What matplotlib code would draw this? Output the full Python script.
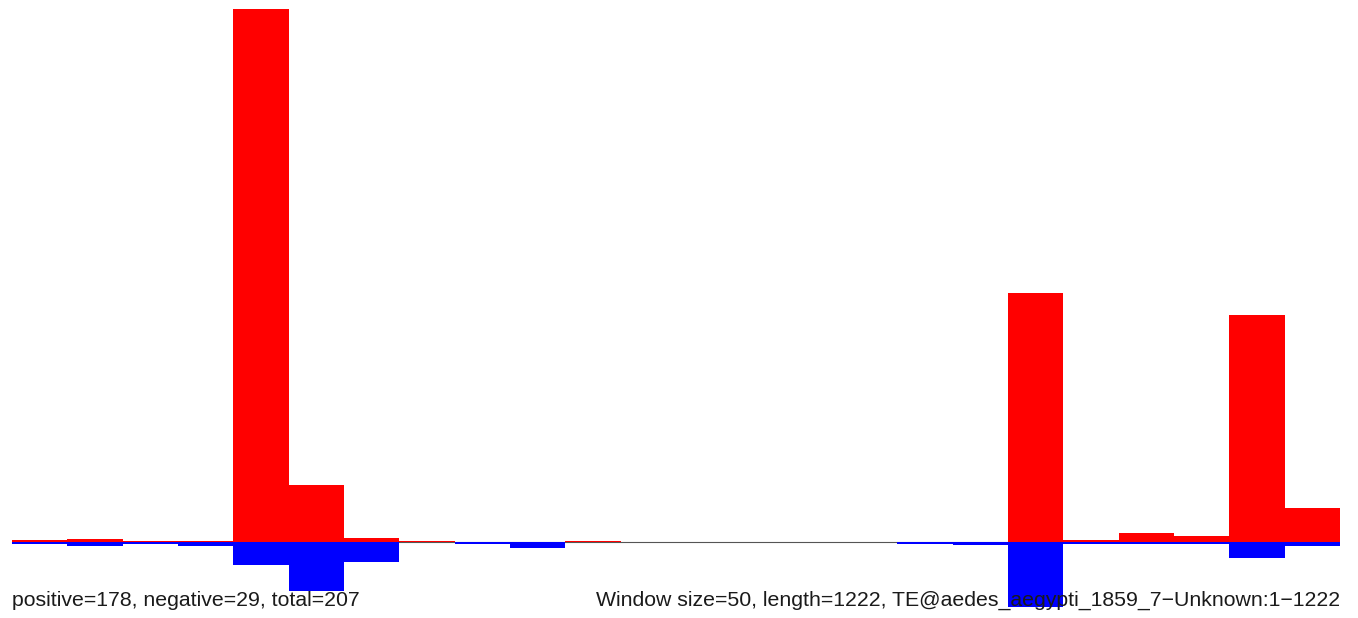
import matplotlib.pyplot as plt
import numpy as np

# window counts, one per 50 bp window
window_start = np.arange(0, 1200, 50)
positive = [0.35, 0.5, 0.2, 0.2, 83.9, 9.0, 0.7, 0.3, 0, 0, 0.3, 0, 0, 0, 0, 0,
            0, 0, 39.2, 0.35, 1.5, 1.0, 35.7, 5.4]
negative = [0.2, 0.5, 0.25, 0.5, 3.5, 7.7, 3.1, 0, 0.25, 0.9, 0, 0, 0, 0, 0, 0,
            0.25, 0.4, 10.1, 0.2, 0.2, 0.3, 2.4, 0.6]

left_label = "positive=178, negative=29, total=207"
right_label = "Window size=50, length=1222, TE@aedes_aegypti_1859_7\u2212Unknown:1\u22121222"

plt.rcParams['font.family'] = ['Liberation Sans', 'DejaVu Sans']

W, H = 1358, 618
fig = plt.figure(figsize=(W / 100, H / 100), dpi=100)
ax = fig.add_axes([12 / W, 1 - 606.7 / H, (1340 - 12) / W, (606.7 - 9) / H])

ax.axhline(0, color='#555555', linewidth=0.8, zorder=1)
ax.bar(window_start, positive, width=50, align='edge', color='#ff0000', linewidth=0, zorder=2)
ax.bar(window_start, [-v for v in negative], width=50, align='edge', color='#0000ff', linewidth=0, zorder=2)

ax.set_xlim(0, 1200)
ax.set_ylim(-max(negative), max(positive))
ax.axis('off')

fig.text(12 / W, 1 - 606 / H, left_label, ha='left', va='baseline', fontsize=15.3, color='#1a1a1a')
fig.text(1340 / W, 1 - 606 / H, right_label, ha='right', va='baseline', fontsize=15.3, color='#1a1a1a')

fig.savefig('out.png', dpi=100)
